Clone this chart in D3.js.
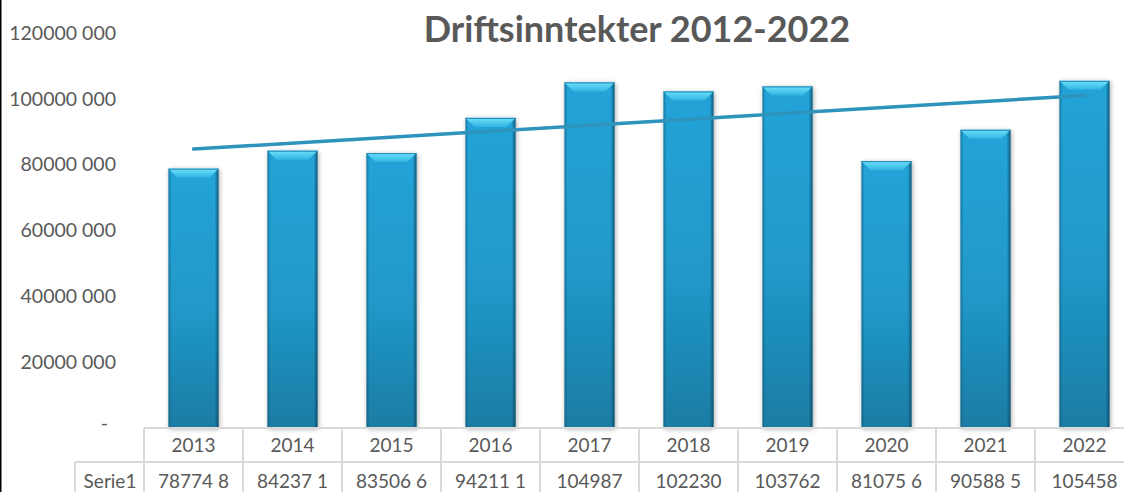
<!DOCTYPE html>
<html>
<head>
<meta charset="utf-8">
<script src="https://cdn.jsdelivr.net/npm/d3@7"></script>
<style>
  body { margin: 0; background: #fff; }
  svg { display: block; }
  text { font-family: Lato, "Open Sans", sans-serif; fill: #595959; }
</style>
</head>
<body>
<div id="chart"></div>
<script>
// data
var years = ["2013", "2014", "2015", "2016", "2017", "2018", "2019", "2020", "2021", "2022"];
var values = [78774800, 84237100, 83506600, 94211100, 104987000, 102230000, 103762000, 81075600, 90588500, 105458000];
var tableLabels = ["78774 8", "84237 1", "83506 6", "94211 1", "104987", "102230", "103762", "81075 6", "90588 5", "105458"];
var seriesName = "Serie1";
var yTicks = [0, 20000000, 40000000, 60000000, 80000000, 100000000, 120000000];
var title = "Driftsinntekter 2012-2022";

var W = 1124, H = 492;
var plot = { left: 144, right: 1134, top: 33, bottom: 428 };
var rowH = 34;

var svg = d3.select("#chart").append("svg")
  .attr("width", W)
  .attr("height", H);

var defs = svg.append("defs");

// body gradient of the bars
var g1 = defs.append("linearGradient").attr("id", "barBody")
  .attr("x1", 0).attr("y1", 0).attr("x2", 0).attr("y2", 1);
g1.append("stop").attr("offset", "0%").attr("stop-color", "#23a3d8");
g1.append("stop").attr("offset", "55%").attr("stop-color", "#2098c9");
g1.append("stop").attr("offset", "100%").attr("stop-color", "#1c7ca4");

var g2 = defs.append("linearGradient").attr("id", "barSide")
  .attr("x1", 0).attr("y1", 0).attr("x2", 1).attr("y2", 0);
g2.append("stop").attr("offset", "0%").attr("stop-color", "#0f4f6a").attr("stop-opacity", 0.55);
g2.append("stop").attr("offset", "6%").attr("stop-color", "#0f4f6a").attr("stop-opacity", 0);
g2.append("stop").attr("offset", "92%").attr("stop-color", "#0f4f6a").attr("stop-opacity", 0);
g2.append("stop").attr("offset", "100%").attr("stop-color", "#0b3c52").attr("stop-opacity", 0.75);

var g3 = defs.append("linearGradient").attr("id", "bevel")
  .attr("x1", 0).attr("y1", 0).attr("x2", 0).attr("y2", 1);
g3.append("stop").attr("offset", "0%").attr("stop-color", "#6fe0fb");
g3.append("stop").attr("offset", "100%").attr("stop-color", "#2fb4e2");

var shadow = defs.append("filter").attr("id", "shadow")
  .attr("x", "-30%").attr("y", "-10%").attr("width", "160%").attr("height", "120%");
shadow.append("feGaussianBlur").attr("in", "SourceAlpha").attr("stdDeviation", 2.5).attr("result", "b");
shadow.append("feOffset").attr("in", "b").attr("dx", 1).attr("dy", 1).attr("result", "o");
shadow.append("feComponentTransfer").attr("in", "o").attr("result", "s")
  .append("feFuncA").attr("type", "linear").attr("slope", 0.35);
var merge = shadow.append("feMerge");
merge.append("feMergeNode").attr("in", "s");
merge.append("feMergeNode").attr("in", "SourceGraphic");

// scales
var x = d3.scaleBand()
  .domain(years)
  .range([plot.left, plot.right])
  .paddingInner(0)
  .paddingOuter(0);

var y = d3.scaleLinear()
  .domain([0, 120000000])
  .range([plot.bottom, plot.top]);

// left frame line
svg.append("line")
  .attr("x1", 0.5).attr("x2", 0.5).attr("y1", 0).attr("y2", H)
  .attr("stroke", "#000").attr("stroke-width", 2);

// title
svg.append("text")
  .attr("x", 637).attr("y", 42)
  .attr("text-anchor", "middle")
  .style("font-size", "36px")
  .style("font-weight", "bold")
  .text(title);

// y axis labels
var fmt = function(d) {
  if (d === 0) return "-";
  return Math.floor(d / 1000) + " 000";
};
var yAxis = d3.axisLeft(y).tickValues(yTicks).tickSize(0).tickPadding(0).tickFormat(fmt);
var ya = svg.append("g")
  .attr("transform", "translate(116,0)")
  .call(yAxis);
ya.select(".domain").remove();
ya.selectAll("text")
  .style("font-size", "19.5px")
  .style("font-family", "Lato, 'Open Sans', sans-serif")
  .attr("fill", "#595959");
ya.selectAll(".tick").filter(function(d) { return d === 0; }).select("text")
  .attr("x", -8).attr("dy", "0.1em");

// bars
var bw = x.bandwidth() * 0.505;
var bev = 9;
var bars = svg.append("g").selectAll("g")
  .data(years.map(function(yr, i) { return { year: yr, value: values[i] }; }))
  .enter().append("g")
  .attr("transform", function(d) {
    return "translate(" + (x(d.year) + (x.bandwidth() - bw) / 2) + "," + y(d.value) + ")";
  });

bars.append("rect")
  .attr("width", bw)
  .attr("height", function(d) { return y(0) - y(d.value); })
  .attr("fill", "url(#barBody)")
  .attr("filter", "url(#shadow)");

bars.append("rect")
  .attr("width", bw)
  .attr("height", function(d) { return y(0) - y(d.value); })
  .attr("fill", "url(#barSide)");

bars.append("polygon")
  .attr("points", "0,0 " + bw + ",0 " + (bw - bev) + "," + bev + " " + bev + "," + bev)
  .attr("fill", "url(#bevel)");

bars.append("line")
  .attr("x1", 0).attr("x2", bw).attr("y1", 0.5).attr("y2", 0.5)
  .attr("stroke", "#1c87b3").attr("stroke-width", 1);

// linear trendline from least squares
var n = values.length;
var xm = d3.mean(d3.range(n)), ym = d3.mean(values);
var sxy = d3.sum(values, function(v, i) { return (i - xm) * (v - ym); });
var sxx = d3.sum(d3.range(n), function(i) { return (i - xm) * (i - xm); });
var slope = sxy / sxx, icpt = ym - slope * xm;

svg.append("line")
  .attr("x1", x(years[0]) + x.bandwidth() / 2)
  .attr("y1", y(icpt))
  .attr("x2", x(years[n - 1]) + x.bandwidth() / 2)
  .attr("y2", y(icpt + slope * (n - 1)))
  .attr("stroke", "#2e93bd")
  .attr("stroke-width", 3.5)
  .attr("stroke-linecap", "round");

// data table
var grid = "#d9d9d9";
var table = svg.append("g");
table.append("line")
  .attr("x1", plot.left).attr("x2", W).attr("y1", plot.bottom).attr("y2", plot.bottom)
  .attr("stroke", grid).attr("stroke-width", 2);
table.append("line")
  .attr("x1", 75).attr("x2", W).attr("y1", plot.bottom + rowH).attr("y2", plot.bottom + rowH)
  .attr("stroke", grid).attr("stroke-width", 2);
table.append("line")
  .attr("x1", 75).attr("x2", 75).attr("y1", plot.bottom + rowH).attr("y2", H)
  .attr("stroke", grid).attr("stroke-width", 2);

table.selectAll(".vline")
  .data(years)
  .enter().append("line")
  .attr("x1", function(d) { return x(d); })
  .attr("x2", function(d) { return x(d); })
  .attr("y1", plot.bottom)
  .attr("y2", H)
  .attr("stroke", grid).attr("stroke-width", 2);

table.selectAll(".yr")
  .data(years)
  .enter().append("text")
  .attr("x", function(d) { return x(d) + x.bandwidth() / 2; })
  .attr("y", plot.bottom + 24)
  .attr("text-anchor", "middle")
  .style("font-size", "19px")
  .text(function(d) { return d; });

table.selectAll(".val")
  .data(tableLabels)
  .enter().append("text")
  .attr("x", function(d, i) { return x(years[i]) + x.bandwidth() / 2; })
  .attr("y", plot.bottom + rowH + 26)
  .attr("text-anchor", "middle")
  .style("font-size", "19px")
  .text(function(d) { return d; });

table.append("text")
  .attr("x", 110).attr("y", plot.bottom + rowH + 26)
  .attr("text-anchor", "middle")
  .style("font-size", "19px")
  .text(seriesName);
</script>
</body>
</html>
